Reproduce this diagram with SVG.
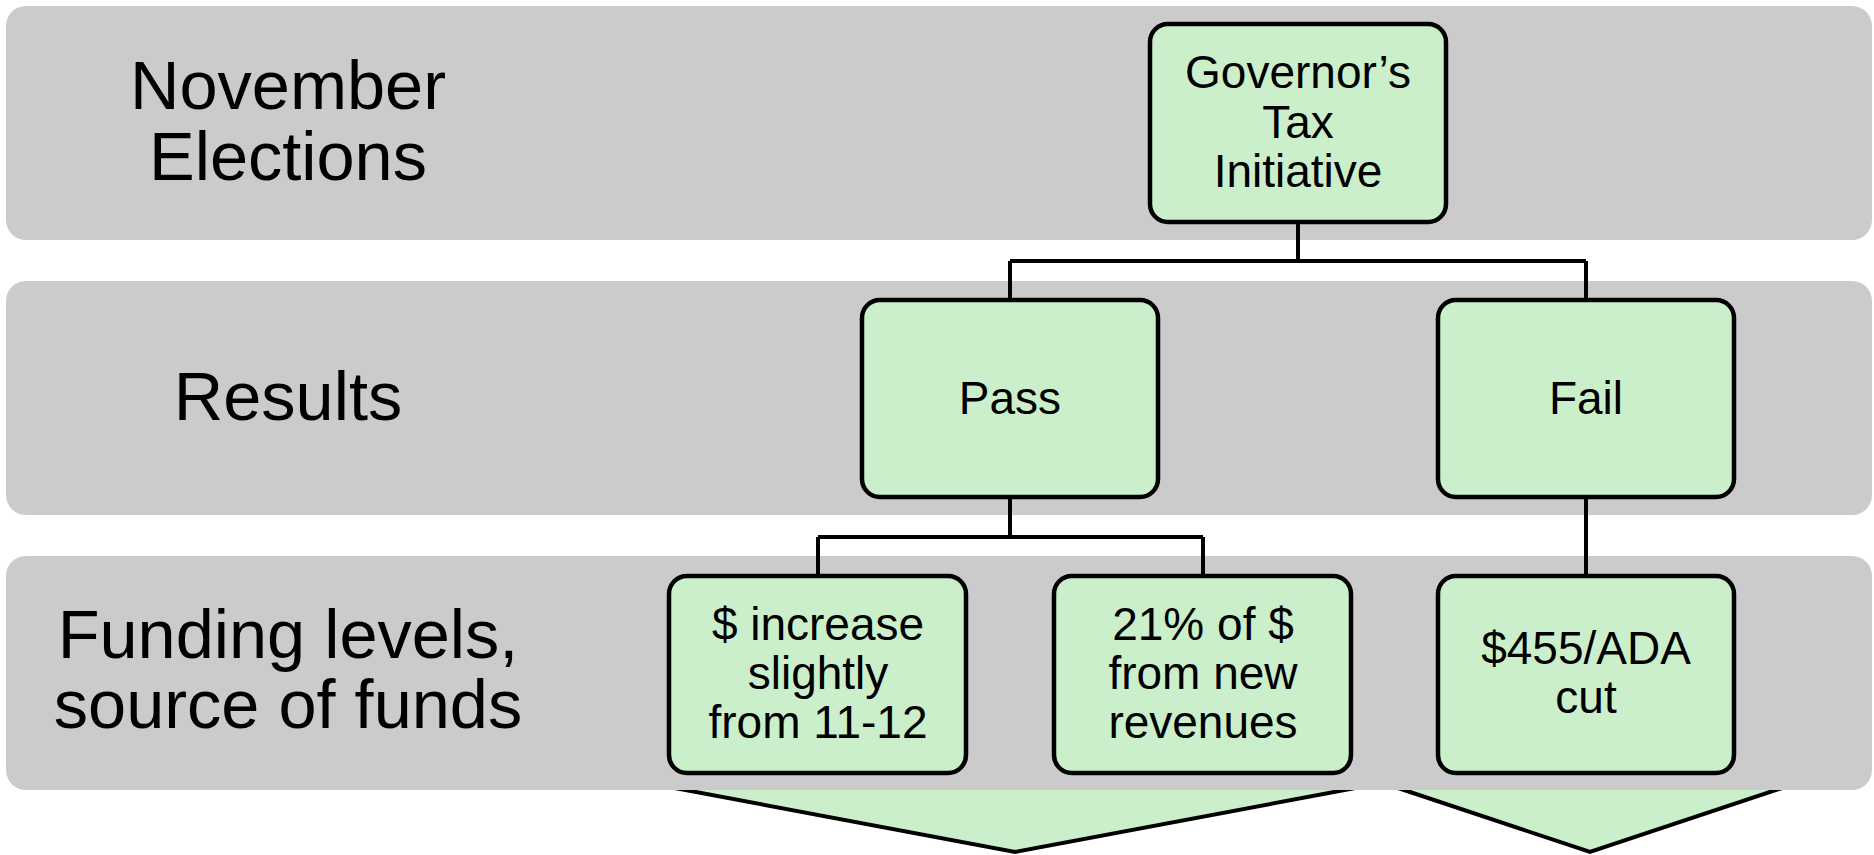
<svg xmlns="http://www.w3.org/2000/svg" width="1874" height="855" viewBox="0 0 1874 855">
<defs>
<style>
.band{fill:#CBCBCB;}
.lbl{font-family:"Liberation Sans",Arial,sans-serif;font-size:68.5px;fill:#000;text-anchor:middle;}
.box{fill:#CBEFCB;stroke:#000;stroke-width:4.5;}
.bt{font-family:"Liberation Sans",Arial,sans-serif;font-size:46px;fill:#000;text-anchor:middle;}
.con{fill:none;stroke:#000;stroke-width:4;}
.chev{fill:#CBEFCB;stroke:#000;stroke-width:4;stroke-linejoin:miter;}
</style>
</defs>
<rect width="1874" height="855" fill="#fff"/>
<g id="chevrons">
<polygon class="chev" points="600,774 1015,852 1430,774"/>
<polygon class="chev" points="1350,772 1590,852 1830,772"/>
</g>
<g id="band-elections">
<rect class="band" x="6" y="6" width="1866" height="234" rx="20"/>
<text class="lbl"><tspan x="288" y="109">November</tspan><tspan x="288" y="180">Elections</tspan></text>
</g>
<g id="band-results">
<rect class="band" x="6" y="281" width="1866" height="234" rx="20"/>
<text class="lbl" x="288" y="420">Results</text>
</g>
<g id="band-funding">
<rect class="band" x="6" y="556" width="1866" height="234" rx="20"/>
<text class="lbl"><tspan x="288" y="658">Funding levels,</tspan><tspan x="288" y="728">source of funds</tspan></text>
</g>
<g id="connectors">
<path class="con" d="M1298,222 V261 M1010,261 H1586 M1010,261 V300 M1586,261 V300"/>
<path class="con" d="M1010,497 V537 M818,537 H1203 M818,537 V576 M1203,537 V576"/>
<path class="con" d="M1586,497 V576"/>
</g>
<g id="node-governor">
<rect class="box" x="1150" y="24" width="296" height="198" rx="18"/>
<text class="bt"><tspan x="1298" y="88">Governor’s</tspan><tspan x="1298" y="138">Tax</tspan><tspan x="1298" y="187">Initiative</tspan></text>
</g>
<g id="node-pass">
<rect class="box" x="862" y="300" width="296" height="197" rx="18"/>
<text class="bt" x="1010" y="414">Pass</text>
</g>
<g id="node-fail">
<rect class="box" x="1438" y="300" width="296" height="197" rx="18"/>
<text class="bt" x="1586" y="414">Fail</text>
</g>
<g id="node-increase">
<rect class="box" x="669" y="576" width="297" height="197" rx="18"/>
<text class="bt"><tspan x="818" y="640">$ increase</tspan><tspan x="818" y="689">slightly</tspan><tspan x="818" y="738">from 11-12</tspan></text>
</g>
<g id="node-revenues">
<rect class="box" x="1054" y="576" width="297" height="197" rx="18"/>
<text class="bt"><tspan x="1203" y="640">21% of $</tspan><tspan x="1203" y="689">from new</tspan><tspan x="1203" y="738">revenues</tspan></text>
</g>
<g id="node-cut">
<rect class="box" x="1438" y="576" width="296" height="197" rx="18"/>
<text class="bt"><tspan x="1586" y="664">$455/ADA</tspan><tspan x="1586" y="713">cut</tspan></text>
</g>
</svg>
